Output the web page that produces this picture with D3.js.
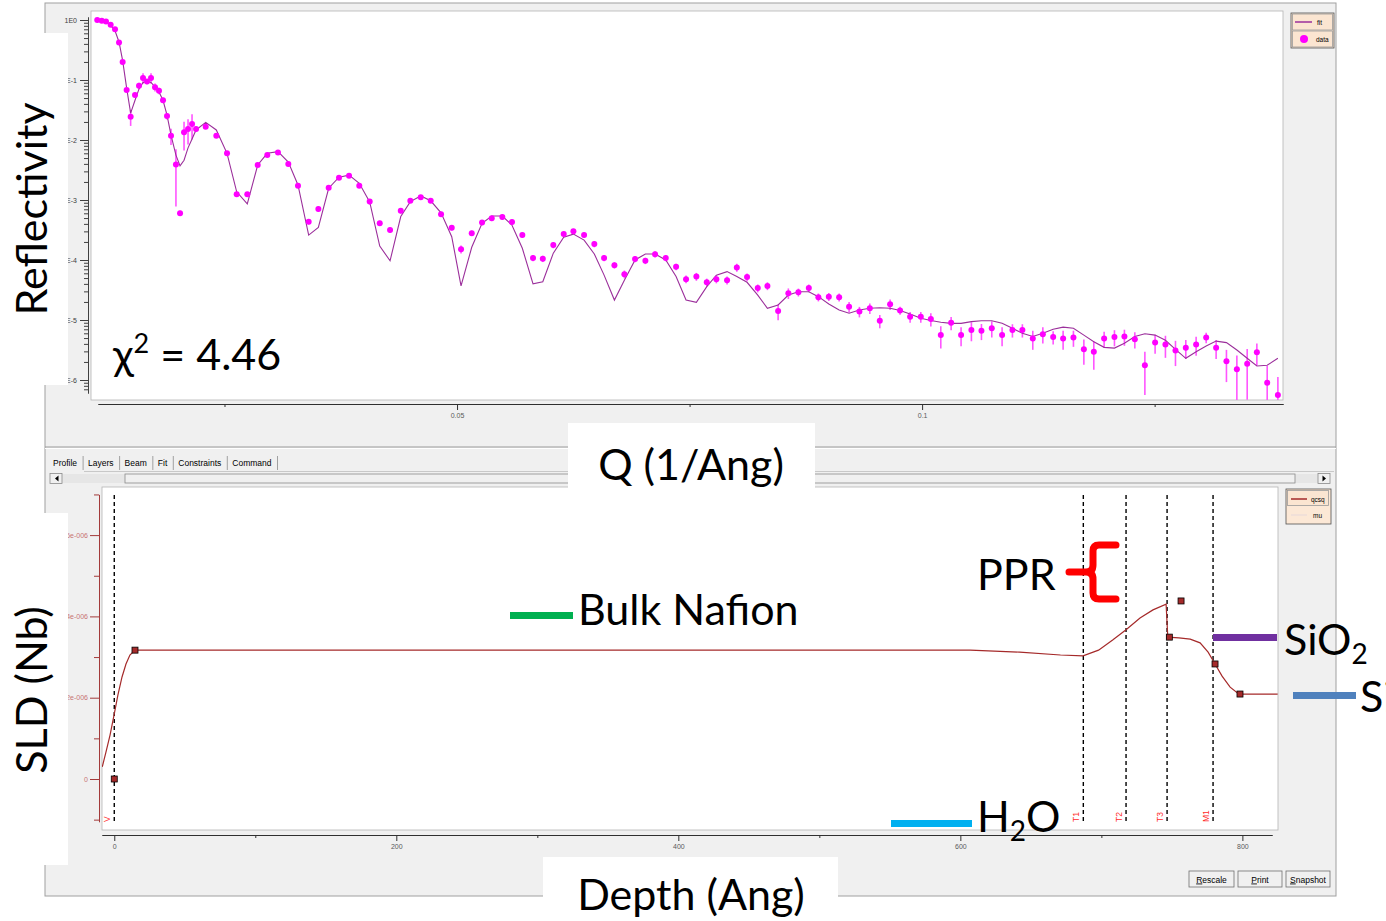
<!DOCTYPE html>
<html lang="en">
<head>
<meta charset="UTF-8">
<title>Reflectivity fit and SLD profile</title>
<script src="https://d3js.org/d3.v7.min.js"></script>
<style>
    body {
        margin: 0;
        padding: 0;
        background: #fff;
        overflow: hidden;
    }
    svg {
        display: block;
    }
    .ui {
        font-family: "Liberation Sans", Arial, sans-serif;
        font-size: 8.5px;
        fill: #000;
    }
    .big {
        font-family: Lato, "Open Sans", sans-serif;
        font-size: 43px;
        fill: #000;
    }
</style>
</head>
<body>
<svg id="chart" width="1386" height="921"></svg>
<script>
// ---- reflectivity panel data ----
const qValues = [
    0.01132, 0.01180, 0.01226, 0.01276, 0.01323, 0.01366, 0.01405, 0.01448, 0.01491, 0.01538,
    0.01581, 0.01624, 0.01667, 0.01710, 0.01753, 0.01796, 0.01839, 0.01882, 0.01925, 0.01978,
    0.02022, 0.02065, 0.02108, 0.02151, 0.02194,
    0.02298, 0.02412, 0.02527, 0.02631, 0.02745, 0.02857, 0.02960, 0.03075, 0.03186, 0.03290,
    0.03405, 0.03509, 0.03620, 0.03731, 0.03839, 0.03949, 0.04061, 0.04169, 0.04280, 0.04395,
    0.04498, 0.04610, 0.04717, 0.04828, 0.04943, 0.05043, 0.05158, 0.05269, 0.05373, 0.05487,
    0.05591, 0.05702, 0.05817, 0.05922, 0.06035, 0.06147, 0.06251, 0.06366, 0.06476, 0.06581,
    0.06692, 0.06799, 0.06914, 0.07025, 0.07129, 0.07244, 0.07355, 0.07462, 0.07573, 0.07685,
    0.07788, 0.07903, 0.08008, 0.08118, 0.08233, 0.08337, 0.08452, 0.08562, 0.08670, 0.08782,
    0.08885, 0.08997, 0.09108, 0.09215, 0.09326, 0.09438, 0.09545, 0.09656, 0.09763, 0.09871,
    0.09986, 0.10094, 0.10201, 0.10312, 0.10419, 0.10530, 0.10638, 0.10749, 0.10860, 0.10971,
    0.11078, 0.11190, 0.11298, 0.11409, 0.11516, 0.11627, 0.11739, 0.11846, 0.11957, 0.12068,
    0.12175, 0.12287, 0.12395, 0.12505, 0.12616, 0.12724, 0.12835, 0.12946, 0.13054, 0.13161,
    0.13272, 0.13384, 0.13495, 0.13599, 0.13710, 0.13825
];
const reflData = [
    1.0, 0.97, 0.94, 0.83, 0.70, 0.42, 0.20, 0.068, 0.0245, 0.056,
    0.080, 0.108, 0.094, 0.108, 0.076, 0.066, 0.046, 0.025, 0.0118, 0.0039,
    6.0e-4, 0.0134, 0.0153, 0.0185, 0.0153,
    0.0167, 0.0118, 0.0060, 0.00125, 0.00125, 0.00383, 0.0056, 0.0062, 0.0040, 0.00173,
    4.35e-4, 7.1e-4, 0.00160, 0.00235, 0.00254, 0.00173, 9.4e-4, 4.1e-4, 3.16e-4, 6.6e-4,
    9.7e-4, 0.00111, 9.7e-4, 5.8e-4, 3.45e-4, 1.51e-4, 2.8e-4, 4.2e-4, 4.95e-4, 5.2e-4,
    4.3e-4, 2.6e-4, 1.08e-4, 1.05e-4, 1.78e-4, 2.7e-4, 3.0e-4, 2.6e-4, 1.85e-4, 1.08e-4,
    8.2e-5, 5.8e-5, 1.04e-4, 9.7e-5, 1.25e-4, 1.08e-4, 7.7e-5, 4.8e-5, 5.3e-5, 4.25e-5,
    4.8e-5, 4.6e-5, 7.5e-5, 5.2e-5, 3.4e-5, 3.7e-5, 1.41e-5, 2.8e-5, 2.9e-5, 3.4e-5,
    2.4e-5, 2.45e-5, 2.4e-5, 1.67e-5, 1.38e-5, 1.57e-5, 9.7e-6, 1.83e-5, 1.44e-5, 1.13e-5,
    1.13e-5, 1.04e-5, 5.6e-6, 9.0e-6, 5.6e-6, 6.8e-6, 6.6e-6, 7.3e-6, 5.6e-6, 6.8e-6,
    6.8e-6, 4.9e-6, 5.8e-6, 5.2e-6, 4.9e-6, 5.1e-6, 3.25e-6, 2.95e-6, 4.9e-6, 5.2e-6,
    5.3e-6, 4.8e-6, 1.76e-6, 4.2e-6, 3.9e-6, 3.1e-6, 3.45e-6, 3.9e-6, 5.1e-6, 3.45e-6,
    2.05e-6, 1.51e-6, 1.87e-6, 2.9e-6, 9.0e-7, 5.6e-7
];
// relative error dR/R
const reflRelErr = [
    0.03, 0.03, 0.03, 0.03, 0.03, 0.03, 0.04, 0.06, 0.3, 0.08,
    0.12, 0.2, 0.1, 0.2, 0.15, 0.12, 0.1, 0.12, 0.3, 0.8,
    0.1, 0.5, 0.45, 0.45, 0.1,
    0.06, 0.06, 0.06, 0.08, 0.08, 0.06, 0.06, 0.06, 0.06, 0.08,
    0.1, 0.1, 0.08, 0.06, 0.06, 0.08, 0.1, 0.1, 0.1, 0.1,
    0.08, 0.08, 0.08, 0.1, 0.1, 0.15, 0.1, 0.1, 0.1, 0.1,
    0.1, 0.1, 0.12, 0.12, 0.12, 0.1, 0.1, 0.1, 0.12, 0.12,
    0.12, 0.15, 0.12, 0.12, 0.12, 0.12, 0.12, 0.15, 0.15, 0.15,
    0.15, 0.15, 0.15, 0.15, 0.15, 0.15, 0.3, 0.2, 0.15, 0.15,
    0.15, 0.15, 0.15, 0.2, 0.2, 0.2, 0.25, 0.2, 0.15, 0.2,
    0.2, 0.25, 0.4, 0.25, 0.35, 0.35, 0.3, 0.3, 0.35, 0.25,
    0.25, 0.35, 0.3, 0.25, 0.35, 0.3, 0.45, 0.5, 0.3, 0.3,
    0.3, 0.3, 0.68, 0.35, 0.4, 0.45, 0.35, 0.35, 0.2, 0.35,
    0.55, 0.7, 0.75, 0.4, 0.9, 1.0
];
const reflFit = [
    1.0, 0.98, 0.93, 0.81, 0.66, 0.43, 0.21, 0.073, 0.028, 0.046,
    0.071, 0.091, 0.094, 0.091, 0.077, 0.063, 0.046, 0.026, 0.0121, 0.0056,
    0.0037, 0.0046, 0.0074, 0.0104, 0.0147,
    0.0197, 0.0147, 0.0060, 0.00137, 8.6e-4, 0.00383, 0.0060, 0.0064, 0.0043, 0.00178,
    2.6e-4, 3.5e-4, 0.00157, 0.0024, 0.0026, 0.0019, 9.3e-4, 1.71e-4, 9.7e-5, 5.3e-4,
    9.4e-4, 0.00117, 9.7e-4, 6.1e-4, 2.45e-4, 3.7e-5, 1.63e-4, 4.1e-4, 5.4e-4, 5.4e-4,
    3.8e-4, 1.57e-4, 4.0e-5, 4.35e-5, 1.3e-4, 2.4e-4, 2.7e-4, 2.15e-4, 1.26e-4, 5.6e-5,
    2.15e-5, 4.6e-5, 1.0e-4, 1.26e-4, 1.26e-4, 1.0e-4, 5.3e-5, 2.15e-5, 1.97e-5, 3.6e-5,
    5.6e-5, 6.4e-5, 5.3e-5, 4.25e-5, 2.6e-5, 1.57e-5, 1.78e-5, 2.6e-5, 2.95e-5, 2.95e-5,
    2.45e-5, 1.85e-5, 1.47e-5, 1.3e-5, 1.47e-5, 1.57e-5, 1.6e-5, 1.57e-5, 1.44e-5, 1.26e-5,
    1.07e-5, 9.8e-6, 9.2e-6, 8.8e-6, 8.8e-6, 9.4e-6, 9.7e-6, 9.7e-6, 8.8e-6, 7.3e-6,
    6.0e-6, 5.3e-6, 6.0e-6, 7.0e-6, 7.6e-6, 7.3e-6, 5.6e-6, 4.35e-6, 3.5e-6, 3.4e-6,
    4.1e-6, 5.3e-6, 5.9e-6, 5.6e-6, 4.6e-6, 3.25e-6, 2.3e-6, 2.95e-6, 3.7e-6, 4.45e-6,
    4.2e-6, 3.16e-6, 2.3e-6, 1.71e-6, 1.76e-6, 2.3e-6
];
const reflMajorTicks = [1, 1e-1, 1e-2, 1e-3, 1e-4, 1e-5, 1e-6];
const reflTickLabels = ['1E0', 'E-1', 'E-2', 'E-3', 'E-4', 'E-5', 'E-6'];
const qMajorTicks = [0.05, 0.1];
const qMinorTicks = [0.025, 0.075, 0.125];

// ---- SLD profile panel data (SLD in units of 1e-6) ----
const depthValues = [-8.5, -5.9, -3.0, 0, 2.6, 5.5, 8.3, 11.1, 14.7, 200, 400, 607, 642, 671, 687,
    698, 708, 717.5, 727.4, 736.6, 745.9, 747.1, 755, 763, 770, 775.7, 780.6, 785.6, 791.3, 796.3, 799.8, 825];
const sldValues = [0.30, 0.66, 1.08, 1.60, 2.07, 2.51, 2.83, 3.05, 3.17, 3.17, 3.17, 3.17, 3.12, 3.05, 3.03,
    3.17, 3.42, 3.67, 3.96, 4.16, 4.30, 3.49, 3.47, 3.44, 3.35, 3.12, 2.83, 2.53, 2.26, 2.12, 2.09, 2.09];
const ctrlDepth = [0, 14.7, 748.2, 756.5, 780.6, 798.3];
const ctrlSld = [0, 3.17, 3.49, 4.38, 2.83, 2.09];
const layerDepths = [0, 687.2, 717.5, 746.6, 779.2];
const layerNames = ['V', 'T1', 'T2', 'T3', 'M1'];
const depthMajorTicks = [0, 200, 400, 600, 800];
const depthMinorTicks = [100, 300, 500, 700];
const sldMajorTicks = [0, 2e-6, 4e-6, 6e-6];
const sldTickLabels = ['0', '2e-006', '4e-006', '6e-006'];
const sldMinorTicks = [-1e-6, 1e-6, 3e-6, 5e-6, 7e-6];

const tabNames = ['Profile', 'Layers', 'Beam', 'Fit', 'Constraints', 'Command'];
const buttonNames = ['Rescale', 'Print', 'Snapshot'];

const svg = d3.select('#chart');

// ---- window chrome ----
svg.append('rect').attr('x', 45).attr('y', 3).attr('width', 1291).attr('height', 893)
    .attr('fill', '#f0f0f0').attr('stroke', '#a0a0a0');

svg.append('rect').attr('x', 91).attr('y', 11).attr('width', 1192).attr('height', 389)
    .attr('fill', '#fff').attr('stroke', '#b4b4b4').attr('stroke-width', 0.8);

svg.append('line').attr('x1', 45).attr('x2', 1336).attr('y1', 447).attr('y2', 447)
    .attr('stroke', '#9a9a9a').attr('stroke-width', 1.2);
svg.append('line').attr('x1', 45).attr('x2', 1336).attr('y1', 448.5).attr('y2', 448.5)
    .attr('stroke', '#fff');

// tabs
const tabs = svg.append('g').attr('class', 'ui');
let tx = 53;
tabNames.forEach(name => {
    const t = tabs.append('text').attr('x', tx).attr('y', 466).text(name);
    const w = t.node().getComputedTextLength();
    const sx = tx + w + 6;
    tabs.append('line').attr('x1', sx).attr('x2', sx).attr('y1', 456).attr('y2', 470)
        .attr('stroke', '#a0a0a0');
    tx = sx + 5;
});
svg.append('line').attr('x1', 84).attr('x2', 1334).attr('y1', 471.5).attr('y2', 471.5)
    .attr('stroke', '#c8c8c8');

// scroll bar
svg.append('rect').attr('x', 62).attr('y', 474).attr('width', 1256).attr('height', 9).attr('fill', '#e6e6e6');
svg.append('rect').attr('x', 125).attr('y', 474).attr('width', 1170).attr('height', 9)
    .attr('fill', '#f0f0f0').attr('stroke', '#8a8a8a').attr('stroke-width', 0.8);
[[50, 'M58.5,475.5 L55,478.5 L58.5,481.5 Z'], [1318, 'M1322.5,475.5 L1326,478.5 L1322.5,481.5 Z']].forEach(b => {
    svg.append('rect').attr('x', b[0]).attr('y', 473.5).attr('width', 12).attr('height', 10)
        .attr('fill', '#f0f0f0').attr('stroke', '#8a8a8a').attr('stroke-width', 0.8);
    svg.append('path').attr('d', b[1]).attr('fill', '#000');
});

svg.append('rect').attr('x', 102).attr('y', 487).attr('width', 1176).attr('height', 343)
    .attr('fill', '#fff').attr('stroke', '#b4b4b4').attr('stroke-width', 0.8);

// ---- top panel: reflectivity ----
const xQ = d3.scaleLinear().domain([0.0114, 0.1388]).range([98, 1283]);
const yR = d3.scaleLog().domain([Math.pow(10, 0.05), Math.pow(10, -6 - 13 / 60)]).range([17, 393]);

function styleAxis(g, lineColor, textColor) {
    g.attr('font-family', '"Liberation Sans", Arial, sans-serif').attr('font-size', 7);
    g.select('.domain').attr('stroke', lineColor);
    g.selectAll('.tick line').attr('stroke', lineColor);
    g.selectAll('.tick text').attr('fill', textColor);
}

svg.append('g').attr('transform', 'translate(88,0)')
    .call(d3.axisLeft(yR).tickValues(reflMajorTicks).tickSize(8).tickSizeOuter(0)
        .tickFormat((d, i) => reflTickLabels[i]))
    .call(g => styleAxis(g, '#404040', '#404040'));
const minorR = yR.ticks().filter(v => Math.abs(Math.log10(v) - Math.round(Math.log10(v))) > 1e-6);
svg.append('g').attr('transform', 'translate(88,0)')
    .call(d3.axisLeft(yR).tickValues(minorR).tickSize(4).tickSizeOuter(0).tickFormat(''))
    .call(g => styleAxis(g, '#404040', '#404040'));

svg.append('g').attr('transform', 'translate(0,404)')
    .call(d3.axisBottom(xQ).tickValues(qMajorTicks).tickSize(6).tickSizeOuter(0).tickFormat(d3.format('')))
    .call(g => styleAxis(g, '#303030', '#5a5a5a'));
svg.append('g').attr('transform', 'translate(0,404)')
    .call(d3.axisBottom(xQ).tickValues(qMinorTicks).tickSize(3).tickSizeOuter(0).tickFormat(''))
    .call(g => styleAxis(g, '#303030', '#5a5a5a'));

svg.append('clipPath').attr('id', 'clipTop').append('rect')
    .attr('x', 91).attr('y', 11).attr('width', 1192).attr('height', 389);
const gTop = svg.append('g').attr('clip-path', 'url(#clipTop)');

const points = qValues.map((q, i) => ({ q: q, r: reflData[i], e: reflRelErr[i], f: reflFit[i] }));

gTop.selectAll('line.err').data(points).join('line')
    .attr('class', 'err')
    .attr('x1', d => xQ(d.q)).attr('x2', d => xQ(d.q))
    .attr('y1', d => yR(d.r * (1 + d.e)))
    .attr('y2', d => d.e < 1 ? yR(d.r * (1 - d.e)) : 400)
    .attr('stroke', '#ff55ff').attr('stroke-width', 1.6);

gTop.append('path').datum(points)
    .attr('d', d3.line().x(d => xQ(d.q)).y(d => yR(d.f)))
    .attr('fill', 'none').attr('stroke', '#9b2f9b').attr('stroke-width', 1.1);

gTop.selectAll('circle').data(points).join('circle')
    .attr('cx', d => xQ(d.q)).attr('cy', d => yR(d.r)).attr('r', 3)
    .attr('fill', '#ff00ff');

// legend (top)
const legTop = svg.append('g');
legTop.append('rect').attr('x', 1291).attr('y', 13).attr('width', 43).attr('height', 35)
    .attr('fill', '#fce8d6').attr('stroke', '#505050').attr('stroke-width', 0.8);
[14, 31].forEach(y => legTop.append('rect').attr('x', 1292.5).attr('y', y).attr('width', 40).attr('height', 16)
    .attr('fill', '#fbe5d1').attr('stroke', '#9a9a9a').attr('stroke-width', 0.8));
legTop.append('line').attr('x1', 1295).attr('x2', 1312).attr('y1', 22).attr('y2', 22)
    .attr('stroke', '#9b2f9b').attr('stroke-width', 1.5);
legTop.append('circle').attr('cx', 1304).attr('cy', 39).attr('r', 4).attr('fill', '#ff00ff');
legTop.append('text').attr('x', 1317).attr('y', 25).attr('font-size', 6.5)
    .attr('font-family', '"Liberation Sans", Arial, sans-serif').text('fit');
legTop.append('text').attr('x', 1316).attr('y', 42).attr('font-size', 6.5)
    .attr('font-family', '"Liberation Sans", Arial, sans-serif').text('data');

// ---- bottom panel: SLD profile ----
const xD = d3.scaleLinear().domain([-8.7, 821]).range([102, 1272]);
const yS = d3.scaleLinear().domain([-1.05e-6, 7e-6]).range([779 + 1.05 * 40.65, 779 - 7 * 40.65]);

svg.append('g').attr('transform', 'translate(99,0)')
    .call(d3.axisLeft(yS).tickValues(sldMajorTicks).tickSize(9).tickPadding(2).tickSizeOuter(0)
        .tickFormat((d, i) => sldTickLabels[i]))
    .call(g => styleAxis(g, '#a33a3a', '#c87474'));
svg.append('g').attr('transform', 'translate(99,0)')
    .call(d3.axisLeft(yS).tickValues(sldMinorTicks).tickSize(5).tickSizeOuter(0).tickFormat(''))
    .call(g => styleAxis(g, '#a33a3a', '#c87474'));

svg.append('g').attr('transform', 'translate(0,835)')
    .call(d3.axisBottom(xD).tickValues(depthMajorTicks).tickSize(6).tickSizeOuter(0).tickFormat(d3.format('d')))
    .call(g => styleAxis(g, '#303030', '#5a5a5a'));
svg.append('g').attr('transform', 'translate(0,835)')
    .call(d3.axisBottom(xD).tickValues(depthMinorTicks).tickSize(3).tickSizeOuter(0).tickFormat(''))
    .call(g => styleAxis(g, '#303030', '#5a5a5a'));

svg.append('clipPath').attr('id', 'clipBot').append('rect')
    .attr('x', 102).attr('y', 487).attr('width', 1176).attr('height', 343);
const gBot = svg.append('g').attr('clip-path', 'url(#clipBot)');

// layer boundaries
const layers = layerDepths.map((d, i) => ({ depth: d, name: layerNames[i] }));
gBot.selectAll('line.layer').data(layers).join('line')
    .attr('class', 'layer')
    .attr('x1', d => xD(d.depth)).attr('x2', d => xD(d.depth))
    .attr('y1', 495).attr('y2', 823)
    .attr('stroke', '#000').attr('stroke-width', 1.4).attr('stroke-dasharray', '4,3');
gBot.selectAll('text.layer').data(layers).join('text')
    .attr('class', 'layer')
    .attr('transform', d => `translate(${xD(d.depth) - 4},822) rotate(-90)`)
    .attr('font-family', '"Liberation Sans", Arial, sans-serif').attr('font-size', 8.5)
    .attr('fill', '#ff2a2a')
    .text(d => d.name);

const profile = depthValues.map((d, i) => ({ depth: d, sld: sldValues[i] * 1e-6 }));
gBot.append('path').datum(profile)
    .attr('d', d3.line().x(d => xD(d.depth)).y(d => yS(d.sld)))
    .attr('fill', 'none').attr('stroke', '#a52a2a').attr('stroke-width', 1.2);

const ctrl = ctrlDepth.map((d, i) => ({ depth: d, sld: ctrlSld[i] * 1e-6 }));
gBot.selectAll('rect.ctrl').data(ctrl).join('rect')
    .attr('class', 'ctrl')
    .attr('x', d => xD(d.depth) - 3).attr('y', d => yS(d.sld) - 3)
    .attr('width', 6).attr('height', 6)
    .attr('fill', '#a52a2a').attr('stroke', '#000').attr('stroke-width', 0.8);

// legend (bottom)
const legBot = svg.append('g');
legBot.append('rect').attr('x', 1286).attr('y', 489).attr('width', 45).attr('height', 35)
    .attr('fill', '#fce8d6').attr('stroke', '#505050').attr('stroke-width', 0.8);
legBot.append('rect').attr('x', 1287.5).attr('y', 490.5).attr('width', 41).attr('height', 15)
    .attr('fill', '#fbe5d1').attr('stroke', '#9a9a9a').attr('stroke-width', 0.8);
legBot.append('line').attr('x1', 1291).attr('x2', 1307).attr('y1', 499).attr('y2', 499)
    .attr('stroke', '#a52a2a').attr('stroke-width', 1.5);
legBot.append('line').attr('x1', 1291).attr('x2', 1307).attr('y1', 515).attr('y2', 515)
    .attr('stroke', '#eadada').attr('stroke-width', 1.2);
legBot.append('text').attr('x', 1311).attr('y', 502).attr('font-size', 6.5)
    .attr('font-family', '"Liberation Sans", Arial, sans-serif').text('qcsq');
legBot.append('text').attr('x', 1313).attr('y', 518).attr('font-size', 6.5)
    .attr('font-family', '"Liberation Sans", Arial, sans-serif').text('mu');

// buttons
const btnX = [1189, 1238, 1286];
const btnW = [45, 44, 44];
buttonNames.forEach((name, i) => {
    const g = svg.append('g');
    g.append('rect').attr('x', btnX[i]).attr('y', 871).attr('width', btnW[i]).attr('height', 16)
        .attr('fill', '#f0f0f0').attr('stroke', '#707070').attr('stroke-width', 0.8);
    const t = g.append('text').attr('class', 'ui').attr('x', btnX[i] + btnW[i] / 2).attr('y', 882.5)
        .attr('text-anchor', 'middle').attr('font-size', 8.5);
    t.append('tspan').attr('text-decoration', 'underline').text(name[0]);
    t.append('tspan').text(name.slice(1));
});

// ---- slide annotations ----
const ann = svg.append('g');
ann.append('rect').attr('x', 0).attr('y', 33).attr('width', 68).attr('height', 352).attr('fill', '#fff');
ann.append('rect').attr('x', 0).attr('y', 513).attr('width', 68).attr('height', 352).attr('fill', '#fff');
ann.append('rect').attr('x', 568).attr('y', 423).attr('width', 247).attr('height', 65).attr('fill', '#fff');
ann.append('rect').attr('x', 543).attr('y', 857).attr('width', 295).attr('height', 64).attr('fill', '#fff');

ann.append('text').attr('class', 'big').attr('text-anchor', 'middle')
    .attr('transform', 'translate(47,209) rotate(-90)').text('Reflectivity');
ann.append('text').attr('class', 'big').attr('text-anchor', 'middle')
    .attr('transform', 'translate(47,690) rotate(-90)').text('SLD (Nb)');
ann.append('text').attr('class', 'big').attr('text-anchor', 'middle')
    .attr('x', 691).attr('y', 480).text('Q (1/Ang)');
ann.append('text').attr('class', 'big').attr('text-anchor', 'middle')
    .attr('x', 691).attr('y', 910).text('Depth (Ang)');

const chi = ann.append('text').attr('class', 'big').attr('x', 113).attr('y', 370);
chi.append('tspan').text('χ');
chi.append('tspan').attr('font-size', 27).attr('dy', -17).text('2');
chi.append('tspan').attr('dy', 17).text(' = 4.46');

// coloured layer markers
ann.append('rect').attr('x', 510).attr('y', 612).attr('width', 63).attr('height', 7).attr('fill', '#00b050');
ann.append('rect').attr('x', 1213).attr('y', 634).attr('width', 64).attr('height', 7).attr('fill', '#7030a0');
ann.append('rect').attr('x', 1293).attr('y', 692).attr('width', 63).attr('height', 7).attr('fill', '#4f81bd');
ann.append('rect').attr('x', 891).attr('y', 820).attr('width', 81).attr('height', 7).attr('fill', '#00b0f0');

ann.append('text').attr('class', 'big').attr('x', 578).attr('y', 625).text('Bulk Nafion');
ann.append('text').attr('class', 'big').attr('x', 977).attr('y', 590).text('PPR');
const sio2 = ann.append('text').attr('class', 'big').attr('x', 1284).attr('y', 655);
sio2.append('tspan').text('SiO');
sio2.append('tspan').attr('font-size', 28).attr('dy', 9).text('2');
ann.append('text').attr('class', 'big').attr('x', 1360).attr('y', 712).text('Si');
const h2o = ann.append('text').attr('class', 'big').attr('x', 977).attr('y', 832);
h2o.append('tspan').text('H');
h2o.append('tspan').attr('font-size', 28).attr('dy', 9).text('2');
h2o.append('tspan').attr('dy', -9).text('O');

// red brace for PPR
ann.append('path')
    .attr('d', 'M1116,545 L1099,545 Q1093,545 1093,551 L1093,565 Q1093,572 1086,572 L1069,572 ' +
        'M1086,572 Q1093,572 1093,579 L1093,593 Q1093,599 1099,599 L1116,599')
    .attr('fill', 'none').attr('stroke', '#ff0000').attr('stroke-width', 7)
    .attr('stroke-linecap', 'round').attr('stroke-linejoin', 'round');
</script>
</body>
</html>
